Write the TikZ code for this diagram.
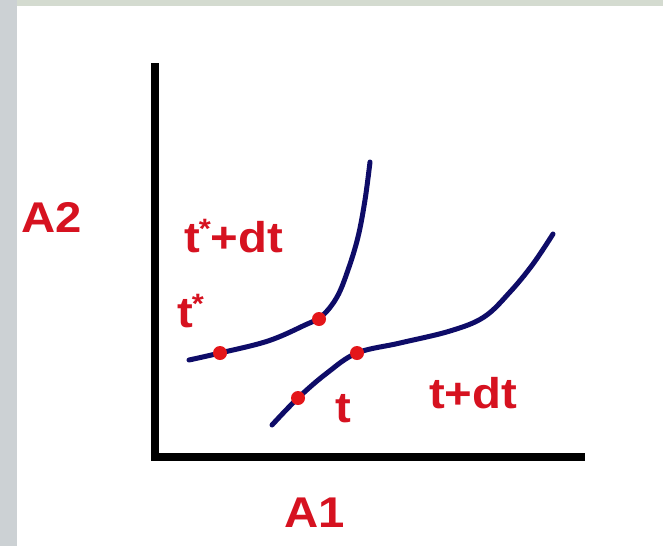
\documentclass[tikz,border=0pt]{standalone}
\usepackage{graphicx}
\usepackage{fontspec}
\setmainfont{Liberation Sans}
\definecolor{lblred}{RGB}{214,18,32}
\definecolor{navy}{RGB}{14,12,104}
\definecolor{dotred}{RGB}{228,22,26}
\definecolor{grayL}{RGB}{204,209,212}
\definecolor{grayT}{RGB}{212,219,208}
\newcommand{\wide}[1]{\scalebox{1.1}[1]{#1}}
\newcommand{\st}{\kern-1pt\raisebox{14pt}{\fontsize{28}{28}\selectfont *}}
\begin{document}
\begin{tikzpicture}[x=1pt,y=-1pt,
  lbl/.style={text=lblred, font=\bfseries\fontsize{43}{43}\selectfont, inner sep=0pt, anchor=base west},
  curve/.style={draw=navy, line width=5pt, line cap=round, line join=round},
  axis/.style={draw=black, line width=8pt},
  pt/.style={fill=dotred, draw=none, circle, minimum size=14pt, inner sep=0pt}]
\useasboundingbox (0,0) rectangle (663,546);
\fill[white] (0,0) rectangle (663,546);
\fill[grayL] (0,0) rectangle (17,546);
\fill[grayT] (17,0) rectangle (663,6);
% axes
\coordinate (top) at (155,63);
\coordinate (origin) at (155,457);
\coordinate (right) at (585,457);
\draw[axis] (top) -- (155,461);
\draw[axis] (151,457) -- (right);
% curves
\draw[curve] plot[smooth, tension=0.6] coordinates {(189,360) (220,353) (268,341) (305,325) (322,316) (337,297) (348,270) (358,237) (365,200) (370,162)};
\draw[curve] plot[smooth, tension=0.6] coordinates {(272,425) (298,398) (327,373) (357,353) (400,343) (450,331) (484,317) (510,292) (533,264) (553,234)};
% points
\node[pt] (p1) at (220,353) {};
\node[pt] (p2) at (319,319) {};
\node[pt] (p3) at (298,398) {};
\node[pt] (p4) at (357,353) {};
% labels
\node[lbl] (a2) at (21,232) {\wide{A2}};
\node[lbl] (a1) at (284,527) {\wide{A1}};
\node[lbl] (tsdt) at (184,252) {\wide{t\st+dt}};
\node[lbl] (ts) at (177,327) {\wide{t\st}};
\node[lbl] (t) at (335,422) {\wide{t}};
\node[lbl] (tdt) at (429,408) {\wide{t+dt}};
\end{tikzpicture}
\end{document}
